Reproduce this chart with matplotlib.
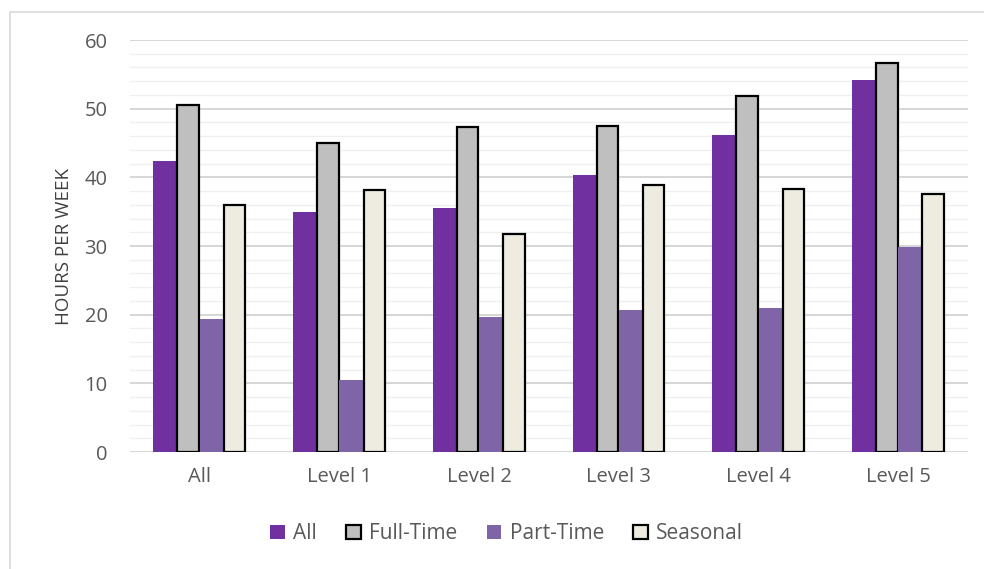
import numpy as np
import matplotlib
matplotlib.use('Agg')
import matplotlib.pyplot as plt
from matplotlib.patches import Rectangle, Patch

# hours per week by level
categories = ['All', 'Level 1', 'Level 2', 'Level 3', 'Level 4', 'Level 5']
all_staff = [42.4, 35.0, 35.5, 40.4, 46.1, 54.2]
full_time = [50.6, 45.0, 47.4, 47.5, 51.8, 56.6]
part_time = [19.3, 10.5, 19.6, 20.7, 20.9, 29.8]
seasonal = [36.0, 38.2, 31.7, 38.9, 38.3, 37.6]

series = ['All', 'Full-Time', 'Part-Time', 'Seasonal']
values = [all_staff, full_time, part_time, seasonal]
faces = ['#7030a0', '#bfbfbf', '#8064a8', '#eeece1']
edges = [None, 'black', None, 'black']

plt.rcParams['font.family'] = ['Open Sans', 'DejaVu Sans']

fig = plt.figure(figsize=(9.84, 5.69), dpi=100)
fig.patches.append(Rectangle((10/984, -0.1), 1.2, 1.1 - 12/569, transform=fig.transFigure,
                             fill=False, edgecolor='#d9d9d9', lw=1.2, zorder=-1))
ax = fig.add_axes([0.132, 0.2056, 0.852, 0.7241])

x = np.arange(len(categories))
w = 0.166
for i in range(4):
    pos = x + (i - 1.5) * w
    if edges[i]:
        ax.bar(pos, values[i], w - 0.012, color=faces[i], edgecolor=edges[i], lw=1.6, zorder=3)
    else:
        ax.bar(pos, values[i], w, color=faces[i], lw=0, zorder=3)

ax.set_xlim(-0.5, 5.5)
ax.set_ylim(0, 60)
ax.set_yticks(range(0, 61, 10))
ax.set_yticks(range(0, 61, 2), minor=True)
ax.grid(axis='y', which='major', color='#d0d0d0', lw=1.2, zorder=0)
ax.grid(axis='y', which='minor', color='#efefef', lw=0.9, zorder=0)
ax.tick_params(axis='y', which='both', length=0, pad=16, labelsize=14.5, labelcolor='#595959')
ax.tick_params(axis='x', length=0, pad=11, labelsize=14.5, labelcolor='#595959')
ax.set_xticks(x)
ax.set_xticklabels(categories)
for s in ax.spines.values():
    s.set_visible(False)
ax.set_ylabel('HOURS PER WEEK', fontsize=13.5, color='#404040', labelpad=8)

handles = [Patch(facecolor=faces[i], edgecolor=edges[i] or faces[i], lw=1.6 if edges[i] else 0)
           for i in range(4)]
fig.legend(handles, series, loc='center', bbox_to_anchor=(0.515, 0.062), ncol=4,
           frameon=False, fontsize=15, handlelength=0.7, handleheight=0.7,
           handletextpad=0.4, columnspacing=1.4, labelcolor='#595959')

fig.savefig('out.png', dpi=100)
